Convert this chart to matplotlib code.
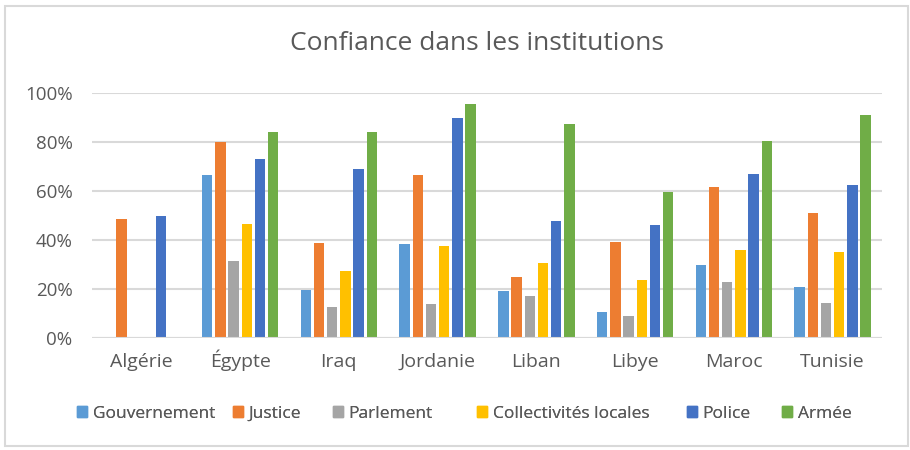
import numpy as np
import matplotlib.pyplot as plt
from matplotlib.patches import Rectangle, Patch

plt.rcParams['font.family'] = ['Open Sans', 'DejaVu Sans']

pays = ["Algérie", "Égypte", "Iraq", "Jordanie", "Liban", "Libye", "Maroc", "Tunisie"]
series = ["Gouvernement", "Justice", "Parlement", "Collectivités locales", "Police", "Armée"]
couleurs = ["#5B9BD5", "#ED7D31", "#A5A5A5", "#FFC000", "#4472C4", "#70AD47"]

nan = np.nan
gouvernement = [nan, 66.5, 19.6, 38.4, 19.0, 10.8, 29.7, 20.8]
justice      = [48.6, 80.0, 38.8, 66.5, 25.0, 39.0, 61.6, 51.0]
parlement    = [nan, 31.5, 12.5, 13.9, 17.2, 8.9, 22.8, 14.4]
collectivites = [nan, 46.6, 27.2, 37.5, 30.7, 23.6, 36.1, 35.1]
police       = [50.0, 73.0, 69.0, 89.6, 47.7, 46.3, 67.0, 62.4]
armee        = [nan, 84.0, 84.0, 95.4, 87.5, 59.7, 80.5, 91.0]
valeurs = [gouvernement, justice, parlement, collectivites, police, armee]

gris = "#595959"
fig = plt.figure(figsize=(9.1, 4.5), dpi=100)
fig.patches.append(Rectangle((5/910, 4/450), 903/910, 440/450, transform=fig.transFigure,
                             fill=False, edgecolor="#D9D9D9", linewidth=1.5))

ax = fig.add_axes([92/910, 1-338/450, 790/910, 245/450])
x = np.arange(len(pays))
pas = 0.134
larg = 0.106
for j in range(6):
    v = np.array(valeurs[j]) / 100
    ax.bar(x + (j - 2.5) * pas, v, larg, color=couleurs[j], zorder=3)

ax.set_xlim(-0.5, 7.5)
ax.set_ylim(0, 1)
ax.set_yticks(np.arange(0, 1.01, 0.2))
ax.set_yticklabels([f"{int(t*100)}%" for t in np.arange(0, 1.01, 0.2)])
ax.set_xticks(x)
ax.set_xticklabels(pays, va="baseline")
ax.yaxis.grid(True, color="#D9D9D9", linewidth=1.5, zorder=0)
for s in ax.spines.values():
    s.set_visible(False)
ax.axhline(0, color="#D9D9D9", linewidth=1.5, zorder=4)
ax.tick_params(axis="both", length=0, colors=gris)
ax.tick_params(axis="y", pad=14, labelsize=13.5)
ax.tick_params(axis="x", pad=21, labelsize=14)

fig.text(477/910, 1-43/450, "Confiance dans les institutions", ha="center", va="center",
         fontsize=19, color=gris)

# legende, chaque entree placee a la main
pos_leg = [77, 233, 333, 477, 687, 782]
for j in range(6):
    lg = fig.legend(handles=[Patch(color=couleurs[j])], labels=[series[j]],
                    loc="center left", bbox_to_anchor=(pos_leg[j]/910, 1-414/450),
                    frameon=False, borderpad=0, borderaxespad=0, handlelength=0.6,
                    handleheight=0.6, handletextpad=0.3, fontsize=12.5)
    for t in lg.get_texts():
        t.set_color(gris)
    fig.add_artist(lg)

fig.savefig("out.png", dpi=100)
